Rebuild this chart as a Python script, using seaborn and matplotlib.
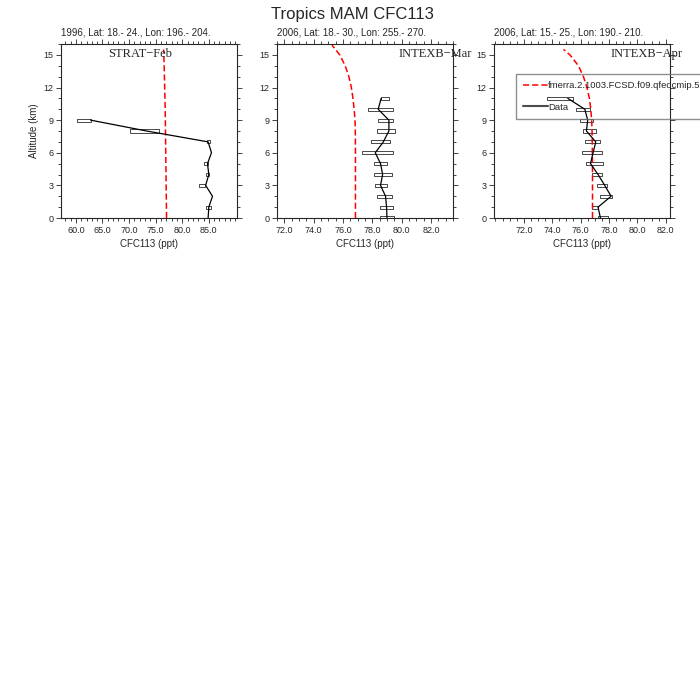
"""
Tropics MAM CFC113: model vs aircraft-campaign profiles
"""

import numpy as np
import matplotlib
matplotlib.use("Agg")
import matplotlib.pyplot as plt
from matplotlib.lines import Line2D
from matplotlib.ticker import MultipleLocator, FixedLocator, FormatStrFormatter
import seaborn as sns

# === Data ===
TITLE = "Tropics MAM CFC113"
MODEL_NAME = "fmerra.2.1003.FCSD.f09.qfedcmip.5"
X_LABEL = "CFC113 (ppt)"
Y_LABEL = "Altitude (km)"

# panel 1: STRAT-Feb
P1_HEADER = "1996, Lat: 18.- 24., Lon: 196.- 204."
P1_CAMPAIGN = "STRAT\u2212Feb"
P1_XTICKS = [60.0, 65.0, 70.0, 75.0, 80.0, 85.0]
P1_OBS_ALT = [0, 1, 2, 3, 4, 5, 6, 7, 8, 9]
P1_OBS_MEAN = [84.87, 85.0, 85.69, 84.4, 85.0, 84.75, 85.5, 84.87, 73.3, 62.76]
P1_OBS_LO = [np.nan, 84.56, np.nan, 83.18, 84.44, 84.06, np.nan, 84.6, 70.15, 60.25]
P1_OBS_HI = [np.nan, 85.5, np.nan, 84.37, 85.06, 84.87, np.nan, 85.2, 75.66, 62.76]
P1_MOD_ALT = [0, 2, 4, 6, 8, 10, 12, 14, 15.5]
P1_MOD_VAL = [77.05, 77.0, 76.95, 76.9, 76.85, 76.8, 76.7, 76.6, 76.5]

# panel 2: INTEXB-Mar
P2_HEADER = "2006, Lat: 18.- 30., Lon: 255.- 270."
P2_CAMPAIGN = "INTEXB\u2212Mar"
P2_XTICKS = [72.0, 74.0, 76.0, 78.0, 80.0, 82.0]
P2_OBS_ALT = [0, 1, 2, 3, 4, 5, 6, 7, 8, 9, 10, 11]
P2_OBS_MEAN = [79.0, 78.97, 78.9, 78.56, 78.7, 78.56, 78.2, 78.75, 79.13, 79.13, 78.4, 78.6]
P2_OBS_LO = [78.5, 78.5, 78.33, 78.2, 78.1, 78.1, 77.3, 77.9, 78.33, 78.4, 77.7, 78.56]
P2_OBS_HI = [79.5, 79.43, 79.34, 79.0, 79.34, 79.0, 79.43, 79.2, 79.52, 79.43, 79.43, 79.13]
P2_MOD_ALT = [0, 2, 4, 6, 8, 9, 10, 11, 12, 13, 14, 15, 15.9]
P2_MOD_VAL = [76.85, 76.85, 76.85, 76.85, 76.84, 76.82, 76.76, 76.68, 76.57, 76.4, 76.15, 75.78, 75.25]

# panel 3: INTEXB-Apr
P3_HEADER = "2006, Lat: 15.- 25., Lon: 190.- 210."
P3_CAMPAIGN = "INTEXB\u2212Apr"
P3_XTICKS = [72.0, 74.0, 76.0, 78.0, 80.0, 82.0]
P3_OBS_ALT = [0, 1, 2, 3, 4, 5, 6, 7, 8, 9, 10, 11]
P3_OBS_MEAN = [77.4, 77.23, 78.15, 77.7, 77.23, 76.7, 76.88, 77.07, 76.41, 76.5, 76.3, 75.1]
P3_OBS_LO = [77.2, 76.77, 77.35, 77.16, 76.77, 76.41, 76.08, 76.3, 76.18, 75.99, 75.7, 73.6]
P3_OBS_HI = [77.9, 77.23, 78.2, 77.87, 77.49, 77.59, 77.49, 77.4, 77.1, 76.88, 76.65, 75.47]
P3_MOD_ALT = [0, 2, 4, 6, 8, 9, 10, 11, 12, 13, 14, 15, 15.5]
P3_MOD_VAL = [76.84, 76.84, 76.84, 76.83, 76.81, 76.78, 76.72, 76.62, 76.45, 76.2, 75.85, 75.25, 74.8]

PANELS = [
    dict(header=P1_HEADER, campaign=P1_CAMPAIGN, xticks=P1_XTICKS, obs_alt=P1_OBS_ALT,
         obs_mean=P1_OBS_MEAN, obs_lo=P1_OBS_LO, obs_hi=P1_OBS_HI,
         mod_alt=P1_MOD_ALT, mod_val=P1_MOD_VAL,
         xlim=(57.2, 90.3), xminor=1.0, text_x=0.27),
    dict(header=P2_HEADER, campaign=P2_CAMPAIGN, xticks=P2_XTICKS, obs_alt=P2_OBS_ALT,
         obs_mean=P2_OBS_MEAN, obs_lo=P2_OBS_LO, obs_hi=P2_OBS_HI,
         mod_alt=P2_MOD_ALT, mod_val=P2_MOD_VAL,
         xlim=(71.5, 83.5), xminor=0.5, text_x=0.69),
    dict(header=P3_HEADER, campaign=P3_CAMPAIGN, xticks=P3_XTICKS, obs_alt=P3_OBS_ALT,
         obs_mean=P3_OBS_MEAN, obs_lo=P3_OBS_LO, obs_hi=P3_OBS_HI,
         mod_alt=P3_MOD_ALT, mod_val=P3_MOD_VAL,
         xlim=(69.9, 82.3), xminor=0.5, text_x=0.66),
]

AX_LEFTS = [61, 277, 494]   # pixels
AX_W, AX_TOP, AX_BOT = 176, 44, 218


def draw_panel(ax, p, first):
    alt = np.array(p["obs_alt"], dtype=float)
    lo = np.array(p["obs_lo"], dtype=float)
    hi = np.array(p["obs_hi"], dtype=float)
    ok = ~np.isnan(lo)

    # std boxes
    ax.barh(alt[ok], hi[ok] - lo[ok], left=lo[ok], height=0.28,
            color="white", edgecolor="black", linewidth=0.5, zorder=2)
    # model profile
    sns.lineplot(x=p["mod_val"], y=p["mod_alt"], orient="y", estimator=None, ax=ax,
                 color="red", linewidth=1.1, linestyle=(0, (4, 2)), zorder=3)
    # observed mean
    sns.lineplot(x=p["obs_mean"], y=p["obs_alt"], orient="y", estimator=None, ax=ax,
                 color="black", linewidth=0.9, zorder=4)

    ax.set_xlim(*p["xlim"])
    ax.set_ylim(0, 16)
    ax.xaxis.set_major_locator(FixedLocator(p["xticks"]))
    ax.xaxis.set_minor_locator(MultipleLocator(p["xminor"]))
    ax.xaxis.set_major_formatter(FormatStrFormatter("%.1f"))
    ax.yaxis.set_major_locator(MultipleLocator(3))
    ax.yaxis.set_minor_locator(MultipleLocator(1))
    ax.tick_params(which="both", direction="out", top=True, right=True,
                   width=0.6, labelsize=6.5, pad=2)
    ax.tick_params(which="major", length=3.5)
    ax.tick_params(which="minor", length=2)
    for s in ax.spines.values():
        s.set_linewidth(0.8)

    ax.set_xlabel(X_LABEL, fontsize=7, labelpad=3)
    ax.set_ylabel(Y_LABEL if first else "", fontsize=7, labelpad=3)
    ax.text(0.0, 1.035, p["header"], transform=ax.transAxes, ha="left", va="bottom",
            fontsize=7)
    ax.text(p["text_x"], 0.94, p["campaign"], transform=ax.transAxes, ha="left",
            va="center", fontsize=9, family="Liberation Serif", clip_on=False)


def main():
    sns.set_style("ticks")
    plt.rcParams["font.family"] = ["Liberation Sans", "DejaVu Sans"]

    fig = plt.figure(figsize=(7, 7), dpi=100)
    for i, left in enumerate(AX_LEFTS):
        ax = fig.add_axes([left / 700, 1 - AX_BOT / 700, AX_W / 700, (AX_BOT - AX_TOP) / 700])
        draw_panel(ax, PANELS[i], i == 0)

    fig.text(0.503, 1 - 14 / 700, TITLE, ha="center", va="center", fontsize=12)

    handles = [
        Line2D([], [], color="red", linewidth=1.1, linestyle=(0, (4, 2))),
        Line2D([], [], color="0.3", linewidth=1.5),
    ]
    fig.legend(handles, [MODEL_NAME, "Data"], loc="upper left",
               bbox_to_anchor=(515.7 / 700, 1 - 74.3 / 700), borderaxespad=0,
               frameon=True, fancybox=False, edgecolor="0.45", facecolor="none",
               fontsize=6.8, handlelength=2.7, handletextpad=0.0,
               borderpad=0.75, labelspacing=1.3)

    fig.savefig("out.png", dpi=100)
    plt.close(fig)


if __name__ == "__main__":
    main()
